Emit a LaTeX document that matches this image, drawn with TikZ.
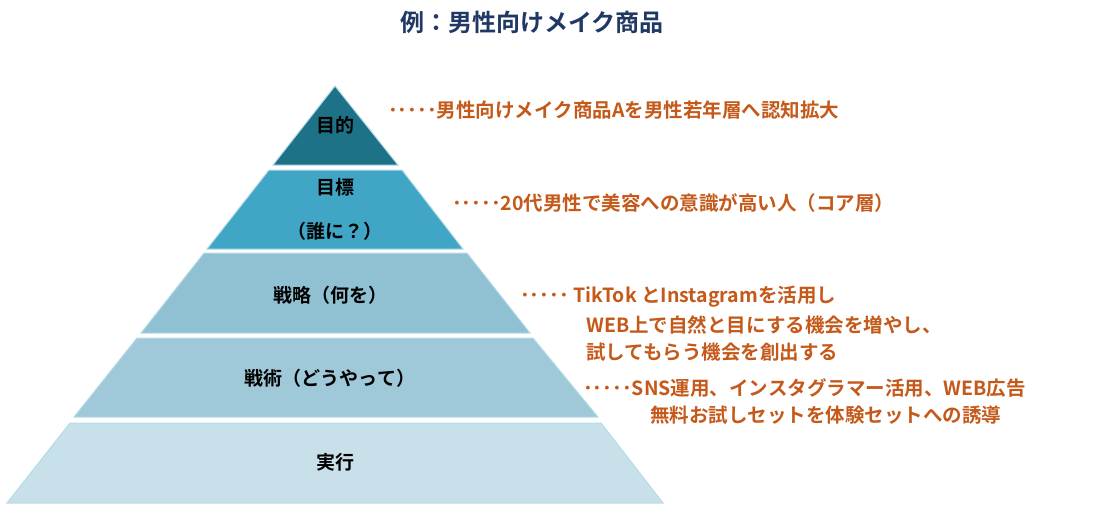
\documentclass[tikz,border=0pt]{standalone}
\usepackage{fontspec}
\setmainfont{Noto Sans CJK JP}[BoldFont={* Bold}]
\newfontfamily\jpb{Noto Sans CJK JP Bold}
\definecolor{c1}{HTML}{1E7287}
\definecolor{c2}{HTML}{41A5C6}
\definecolor{c3}{HTML}{90C1D3}
\definecolor{c4}{HTML}{9FC8D8}
\definecolor{c5}{HTML}{C7E0E9}
\definecolor{edge}{HTML}{B5DCE8}
\definecolor{orng}{HTML}{C4591A}
\definecolor{navy}{HTML}{1F3864}
\begin{document}
\begin{tikzpicture}[x=1pt,y=-1pt,
 layer/.style={draw=edge,line width=1pt},
 lbl/.style={font=\jpb\fontsize{19}{22}\selectfont,text=black},
 note/.style={font=\jpb\fontsize{19.5}{27}\selectfont,text=orng,anchor=west,align=left,inner sep=0pt}]
\useasboundingbox (0,0) rectangle (1094,508);
\node[font=\jpb\fontsize{24}{28}\selectfont,text=navy] (title) at (532,22) {例：男性向けメイク商品};
\fill[c1,layer] (335,86) -- (398,165) -- (273,165) -- cycle;
\fill[c2,layer] (269,170) -- (402,170) -- (463,249) -- (207,249) -- cycle;
\fill[c3,layer] (204,253) -- (467,253) -- (530,333) -- (141,333) -- cycle;
\fill[c4,layer] (137,338) -- (533,338) -- (598,417) -- (74,417) -- cycle;
\fill[c5,layer] (70,423) -- (601,423) -- (663,503) -- (7,503) -- cycle;
\node[lbl] (l1) at (335,125) {目的};
\node[lbl] (l2a) at (335,187) {目標};
\node[lbl] (l2b) at (335,231) {（誰に？）};
\node[lbl] (l3) at (330,295) {戦略（何を）};
\node[lbl] (l4) at (330,378) {戦術（どうやって）};
\node[lbl] (l5) at (335,462) {実行};
\node[note] (n1) at (388,110) {･････男性向けメイク商品Aを男性若年層へ認知拡大};
\node[note] (n2) at (452,203) {･････20代男性で美容への意識が高い人（コア層）};
\node[note] (n3) at (520,297) {･････ TikTok とInstagramを活用し};
\node[note] (n3b) at (586,325) {WEB上で自然と目にする機会を増やし、};
\node[note] (n3c) at (586,352) {試してもらう機会を創出する};
\node[note] (n4) at (583,388) {･････SNS運用、インスタグラマー活用、WEB広告};
\node[note] (n4b) at (650,415) {無料お試しセットを体験セットへの誘導};
\end{tikzpicture}
\end{document}
